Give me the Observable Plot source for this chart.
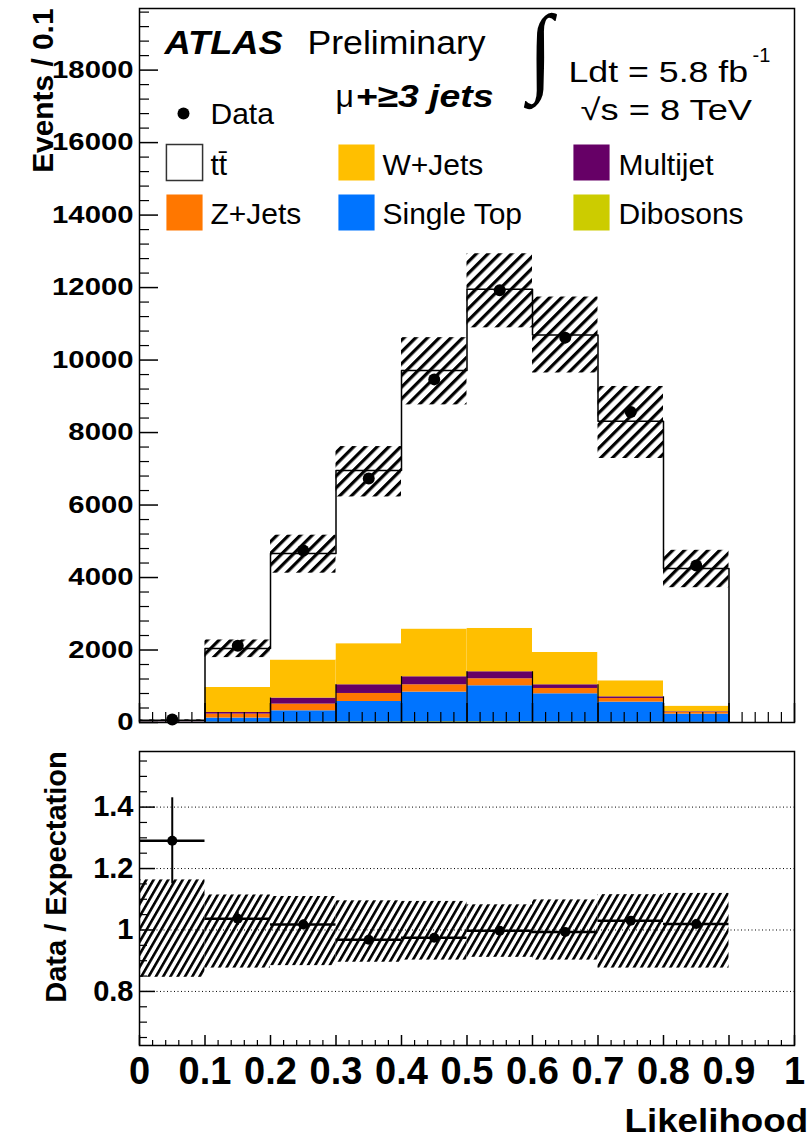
<!DOCTYPE html>
<html><head><meta charset="utf-8">
<script src="https://cdn.jsdelivr.net/npm/d3@7"></script>
<script src="https://cdn.jsdelivr.net/npm/@observablehq/plot@0.6"></script>
<style>html,body{margin:0;padding:0;background:#fff;} #chart svg{display:block;}</style>
</head><body><div id="chart"></div>
<script>
// ---------- data ----------
const binLo = [0.0, 0.1, 0.2, 0.3, 0.4, 0.5, 0.6, 0.7, 0.8];
const binHi = [0.1, 0.2, 0.3, 0.4, 0.5, 0.6, 0.7, 0.8, 0.9];
const dataEvents = [80, 2119, 4743, 6732, 9467, 11925, 10619, 8564, 4329];
const processes = ["Dibosons", "Single Top", "Z+Jets", "Multijet", "W+Jets", "tt\u0304"];
const processColors = ["#cccc00", "#0074ff", "#ff7700", "#660066", "#ffbf00", "#ffffff"];
const dibosons = [3, 10, 14, 18, 20, 20, 16, 12, 6];
const singleTop = [12, 112, 309, 562, 818, 993, 776, 550, 224];
const zJets = [8, 110, 185, 221, 203, 193, 147, 101, 46];
const multijet = [6, 44, 166, 240, 221, 194, 102, 46, 19];
const wJets = [20, 691, 1050, 1133, 1317, 1197, 893, 442, 156];
const ttbar = [13, 1077, 2936, 4779, 7136, 9356, 8757, 7164, 3795];
const bandLo = [0.846, 0.876, 0.884, 0.895, 0.902, 0.911, 0.902, 0.876, 0.876];
const bandHi = [1.163, 1.114, 1.109, 1.095, 1.093, 1.082, 1.098, 1.115, 1.119];
const ratioErr = [0.14, 0.022, 0.015, 0.012, 0.010, 0.009, 0.010, 0.011, 0.015];
const yTickValues = [0, 2000, 4000, 6000, 8000, 10000, 12000, 14000, 16000, 18000];
const yTickLabels = ["0", "2000", "4000", "6000", "8000", "10000", "12000", "14000", "16000", "18000"];
const rTickValues = [0.8, 1.0, 1.2, 1.4];
const rTickLabels = ["0.8", "1", "1.2", "1.4"];
const xTickValues = [0, 0.1, 0.2, 0.3, 0.4, 0.5, 0.6, 0.7, 0.8, 0.9, 1.0];
const xTickLabels = ["0", "0.1", "0.2", "0.3", "0.4", "0.5", "0.6", "0.7", "0.8", "0.9", "1"];

// ---------- derived tables ----------
const series = [dibosons, singleTop, zJets, multijet, wJets, ttbar];
const stackRows = [];
processes.forEach((p, k) => binLo.forEach((lo, i) => stackRows.push({process: p, lo, hi: binHi[i], value: series[k][i]})));
const idx = binLo.map((_, i) => i);
const total = idx.map(i => series.reduce((s, a) => s + a[i], 0));
const mjTop = idx.map(i => dibosons[i] + singleTop[i] + zJets[i] + multijet[i]);
const center = idx.map(i => (binLo[i] + binHi[i]) / 2);
const ratio = idx.map(i => dataEvents[i] / total[i]);
const stepPts = idx.map(i => ({x: binLo[i], y: total[i]}));
stepPts.push({x: binHi[binHi.length - 1], y: total[total.length - 1]});
stepPts.push({x: binHi[binHi.length - 1], y: 0});
const edgeRules = idx.slice(1).map(i => ({x: binLo[i], y: Math.max(mjTop[i - 1], mjTop[i])}));
edgeRules.push({x: binHi[binHi.length - 1], y: mjTop[mjTop.length - 1]});

const FONT = "Liberation Sans, Arial, Helvetica, sans-serif";
const W = 809, ML = 139, MR = 15;
const FW = W - ML - MR;

// ---------- top panel ----------
const H1 = 740, MT1 = 8, MB1 = 18, FH1 = H1 - MT1 - MB1;
const yMinor = d3.range(0, 19700, 400).filter(v => v % 2000 !== 0);
const xMinor = d3.range(0, 51).filter(k => k % 5 !== 0).map(k => k / 50);
const xMajor = d3.range(0, 11).map(k => k / 10);

function txt(s, x, y, o = {}) {
  return Plot.text([s], {frameAnchor: "top-left", dx: x - ML, dy: y - MT1, text: d => d,
    textAnchor: "start", lineAnchor: "bottom", fill: "black", fontFamily: FONT, ...o});
}
function swatch(color, cx, cy, stroke) {
  return Plot.dot([0], {frameAnchor: "top-left", dx: cx - ML, dy: cy - MT1, symbol: "square",
    r: 20.4, fill: color, stroke: stroke || "none", strokeWidth: 1.5});
}

const legendMarks = [
  Plot.dot([0], {frameAnchor: "top-left", dx: 183 - ML, dy: 113 - MT1, r: 6, fill: "black"}),
  txt("Data", 210, 123, {fontSize: 30}),
  swatch(processColors[5], 184, 162, "#333"),
  txt(processes[5], 210, 174, {fontSize: 30}),
  swatch(processColors[4], 356, 162),
  txt(processes[4], 382, 174, {fontSize: 30}),
  swatch(processColors[3], 591, 162),
  txt(processes[3], 618, 174, {fontSize: 30}),
  swatch(processColors[2], 184, 212),
  txt(processes[2], 210, 223, {fontSize: 30}),
  swatch(processColors[1], 356, 212),
  txt(processes[1], 382, 223, {fontSize: 30}),
  swatch(processColors[0], 591, 212),
  txt(processes[0], 618, 223, {fontSize: 30})
];

const headerMarks = [
  txt("ATLAS", 164, 53, {fontSize: 33, fontWeight: "bold", fontStyle: "italic", className: "sx110"}),
  txt("Preliminary", 307, 53, {fontSize: 33, className: "sx108"}),
  txt("\u03bc", 335, 106, {fontSize: 32}),
  txt("+\u22653 jets", 355, 106, {fontSize: 32, fontWeight: "bold", fontStyle: "italic", className: "sx117"}),
  txt("\u222b", 528, 82, {fontSize: 88, fontFamily: "Liberation Serif, serif", className: "sx100 sy112"}),
  txt("Ldt = 5.8 fb", 568, 81, {fontSize: 30, className: "sx119"}),
  txt("-1", 752, 61, {fontSize: 20}),
  txt("\u221as = 8 TeV", 580, 119, {fontSize: 30, className: "sx121"}),
  txt("Events / 0.1", 52, 8, {fontSize: 29, fontWeight: "bold", rotate: -90, textAnchor: "end", className: "sx103"})
];

const topPlot = Plot.plot({
  width: W, height: H1, marginLeft: ML, marginRight: MR, marginTop: MT1, marginBottom: MB1,
  x: {domain: [0, 1], axis: null},
  y: {domain: [0, 19700], axis: null},
  color: {domain: processes, range: processColors},
  style: {background: "white", overflow: "visible"},
  marks: [
    Plot.rectY(stackRows, {x1: "lo", x2: "hi", y: "value", fill: "process"}),
    Plot.rect(idx, {x1: i => binLo[i], x2: i => binHi[i], y1: i => total[i] * bandLo[i], y2: i => total[i] * bandHi[i], fill: "url(#hatchTop)"}),
    Plot.line(stepPts, {x: "x", y: "y", curve: "step-after", stroke: "black", strokeWidth: 1.5}),
    Plot.ruleX(edgeRules, {x: "x", y1: 0, y2: "y", stroke: "black", strokeWidth: 1.2}),
    Plot.tickY(yTickValues, {y: d => d, insetRight: FW - 19, stroke: "black", strokeWidth: 1.5}),
    Plot.tickY(yMinor, {y: d => d, insetRight: FW - 10, stroke: "black", strokeWidth: 1.2}),
    Plot.tickX(xMajor, {x: d => d, insetTop: FH1 - 19, stroke: "black", strokeWidth: 1.5}),
    Plot.tickX(xMinor, {x: d => d, insetTop: FH1 - 10, stroke: "black", strokeWidth: 1.2}),
    Plot.frame({stroke: "black", strokeWidth: 1.5}),
    Plot.dot(idx, {x: i => center[i], y: i => dataEvents[i], r: 6, fill: "black"}),
    Plot.text(yTickValues, {y: d => d, text: (d, i) => yTickLabels[i], frameAnchor: "left", dx: -6,
      textAnchor: "end", lineAnchor: "middle", fontSize: 24, fontWeight: "bold", fontFamily: FONT, fill: "black", className: "sx122"}),
    ...legendMarks,
    ...headerMarks
  ]
});

// ---------- ratio panel ----------
const H2 = 399, MT2 = 11, MB2 = 94, FH2 = H2 - MT2 - MB2;
const rMinor = d3.range(13, 32).filter(k => k % 4 !== 0).map(k => k * 0.05);

const botPlot = Plot.plot({
  width: W, height: H2, marginLeft: ML, marginRight: MR, marginTop: MT2, marginBottom: MB2,
  x: {domain: [0, 1], axis: null},
  y: {domain: [0.624, 1.581], axis: null},
  style: {background: "white", overflow: "visible"},
  marks: [
    Plot.ruleY(rTickValues, {y: d => d, stroke: "black", strokeWidth: 1, strokeDasharray: "1,2.5"}),
    Plot.rect(idx, {x1: i => binLo[i], x2: i => binHi[i], y1: i => bandLo[i], y2: i => bandHi[i], fill: "url(#hatchBot)"}),
    Plot.ruleY(idx, {x1: i => binLo[i], x2: i => binHi[i], y: i => ratio[i], stroke: "black", strokeWidth: 2.5}),
    Plot.ruleX(idx, {x: i => center[i], y1: i => ratio[i] - ratioErr[i], y2: i => ratio[i] + ratioErr[i], stroke: "black", strokeWidth: 2}),
    Plot.dot(idx, {x: i => center[i], y: i => ratio[i], r: 5, fill: "black"}),
    Plot.tickY(rTickValues, {y: d => d, insetRight: FW - 16, stroke: "black", strokeWidth: 1.5}),
    Plot.tickY(rMinor, {y: d => d, insetRight: FW - 8, stroke: "black", strokeWidth: 1.2}),
    Plot.tickX(xMajor, {x: d => d, insetTop: FH2 - 10, stroke: "black", strokeWidth: 1.5}),
    Plot.tickX(xMinor, {x: d => d, insetTop: FH2 - 5, stroke: "black", strokeWidth: 1.2}),
    Plot.frame({stroke: "black", strokeWidth: 1.5}),
    Plot.text(rTickValues, {y: d => d, text: (d, i) => rTickLabels[i], frameAnchor: "left", dx: -6,
      textAnchor: "end", lineAnchor: "middle", fontSize: 29, fontWeight: "bold", fontFamily: FONT, fill: "black"}),
    Plot.text(xTickValues, {x: d => d, text: (d, i) => xTickLabels[i], frameAnchor: "bottom", dy: 12,
      lineAnchor: "top", fontSize: 38, fontWeight: "bold", fontFamily: FONT, fill: "black"}),
    Plot.text(["Data / Expectation"], {frameAnchor: "left", dx: 65 - ML, dy: -21.5, text: d => d, rotate: -90,
      textAnchor: "middle", lineAnchor: "bottom", fontSize: 29, fontWeight: "bold", fontFamily: FONT, fill: "black"}),
    Plot.text(["Likelihood"], {frameAnchor: "bottom-right", dx: 13.6, dy: 86.7, text: d => d,
      textAnchor: "end", lineAnchor: "bottom", fontSize: 34, fontWeight: "bold", fontFamily: FONT, fill: "black", className: "sx108"})
  ]
});

function addDefs(svg, html) {
  const ns = "http://www.w3.org/2000/svg";
  const defs = document.createElementNS(ns, "defs");
  defs.innerHTML = html;
  svg.insertBefore(defs, svg.firstChild);
}
addDefs(topPlot, '<pattern id="hatchTop" patternUnits="userSpaceOnUse" width="8.3" height="8.3" patternTransform="rotate(45)"><rect x="0" y="0" width="3.2" height="8.3" fill="black"/></pattern>');
addDefs(botPlot, '<pattern id="hatchBot" patternUnits="userSpaceOnUse" width="6.3" height="6.3" patternTransform="rotate(30)"><rect x="0" y="0" width="2.6" height="6.3" fill="black"/></pattern>');

function applyStretch(svg) {
  svg.querySelectorAll("g[class*='sx'], g[class*='sy']").forEach(g => {
    const c = g.getAttribute("class") || "";
    const mx = c.match(/sx(\d+)/), my = c.match(/sy(\d+)/);
    const sx = mx ? +mx[1] / 100 : 1, sy = my ? +my[1] / 100 : 1;
    g.querySelectorAll("text").forEach(t => {
      t.setAttribute("transform", (t.getAttribute("transform") || "") + ` scale(${sx},${sy})`);
    });
  });
}
applyStretch(topPlot);
applyStretch(botPlot);

const chart = document.getElementById("chart");
chart.appendChild(topPlot);
chart.appendChild(botPlot);
</script>
</body></html>
